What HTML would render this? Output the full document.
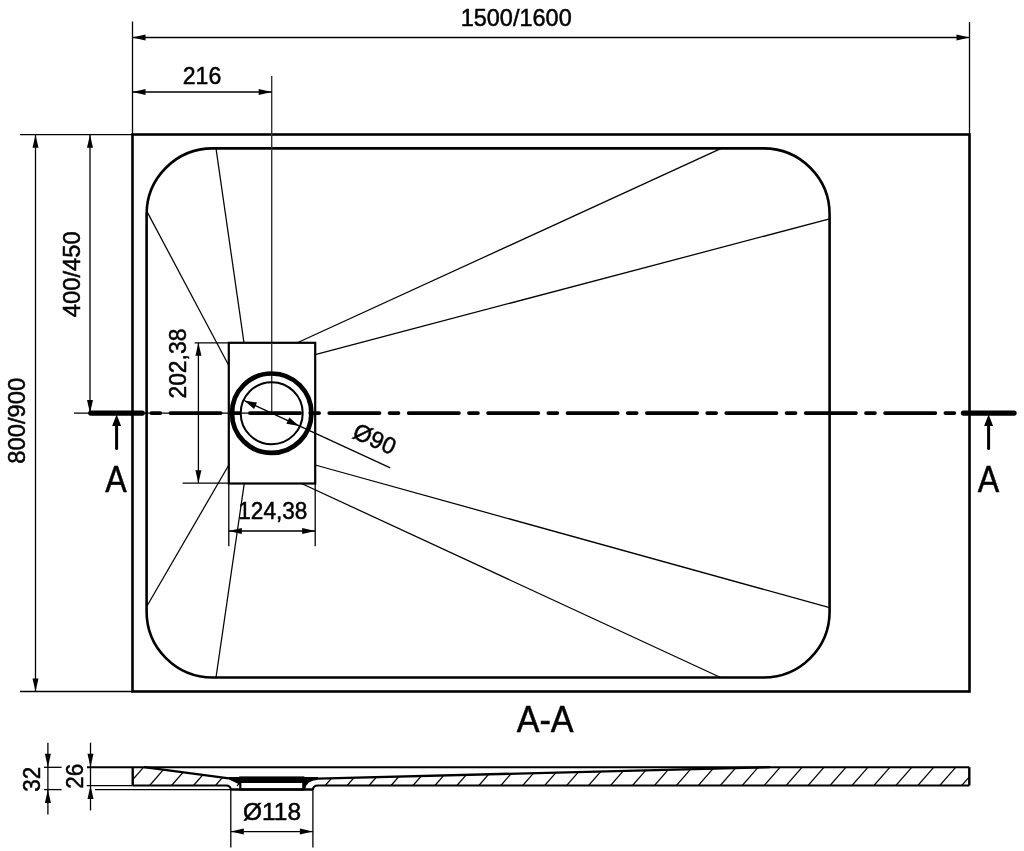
<!DOCTYPE html>
<html><head><meta charset="utf-8"><style>
html,body{margin:0;padding:0;background:#fff;width:1024px;height:851px;overflow:hidden}
svg{display:block;will-change:transform}
</style></head><body>
<svg width="1024" height="851" viewBox="0 0 1024 851">
<rect width="1024" height="851" fill="#fff"/>
<rect x="132.5" y="134.5" width="837" height="557" fill="none" stroke="#000" stroke-width="2.6"/>
<rect x="146.6" y="148.4" width="683" height="529.1" rx="66" ry="66" fill="none" stroke="#000" stroke-width="2.6"/>
<line x1="147.00" y1="211.60" x2="228.80" y2="365.50" stroke="#000" stroke-width="1.25" stroke-linecap="butt"/>
<line x1="216.00" y1="148.40" x2="244.00" y2="342.80" stroke="#000" stroke-width="1.25" stroke-linecap="butt"/>
<line x1="721.30" y1="148.40" x2="297.30" y2="342.80" stroke="#000" stroke-width="1.25" stroke-linecap="butt"/>
<line x1="829.60" y1="218.90" x2="315.20" y2="354.60" stroke="#000" stroke-width="1.25" stroke-linecap="butt"/>
<line x1="829.60" y1="607.70" x2="315.20" y2="465.00" stroke="#000" stroke-width="1.25" stroke-linecap="butt"/>
<line x1="720.60" y1="677.50" x2="301.50" y2="483.50" stroke="#000" stroke-width="1.25" stroke-linecap="butt"/>
<line x1="216.00" y1="677.50" x2="244.30" y2="483.20" stroke="#000" stroke-width="1.25" stroke-linecap="butt"/>
<line x1="147.00" y1="606.00" x2="228.80" y2="465.00" stroke="#000" stroke-width="1.25" stroke-linecap="butt"/>
<line x1="132.50" y1="21.50" x2="132.50" y2="134.50" stroke="#000" stroke-width="1.3" stroke-linecap="butt"/>
<line x1="969.50" y1="22.00" x2="969.50" y2="134.50" stroke="#000" stroke-width="1.3" stroke-linecap="butt"/>
<line x1="132.50" y1="37.50" x2="969.50" y2="37.50" stroke="#000" stroke-width="1.3" stroke-linecap="butt"/>
<polygon points="132.50,37.50 145.50,34.50 145.50,40.50" fill="#000"/>
<polygon points="969.50,37.50 956.50,40.50 956.50,34.50" fill="#000"/>
<text x="516.20" y="26.40" font-family="Liberation Sans, sans-serif" font-size="23.6" text-anchor="middle" fill="#000" stroke="#000" stroke-width="0.5" textLength="111" lengthAdjust="spacingAndGlyphs">1500/1600</text>
<line x1="271.70" y1="76.00" x2="271.70" y2="413.00" stroke="#333" stroke-width="1.4" stroke-linecap="butt"/>
<line x1="132.50" y1="92.00" x2="271.70" y2="92.00" stroke="#000" stroke-width="1.3" stroke-linecap="butt"/>
<polygon points="132.50,92.00 145.50,89.00 145.50,95.00" fill="#000"/>
<polygon points="271.70,92.00 258.70,95.00 258.70,89.00" fill="#000"/>
<text x="202.00" y="83.70" font-family="Liberation Sans, sans-serif" font-size="23.6" text-anchor="middle" fill="#000" stroke="#000" stroke-width="0.5" textLength="38.5" lengthAdjust="spacingAndGlyphs">216</text>
<line x1="20.00" y1="134.70" x2="132.50" y2="134.70" stroke="#000" stroke-width="1.3" stroke-linecap="butt"/>
<line x1="20.00" y1="691.50" x2="132.50" y2="691.50" stroke="#000" stroke-width="1.3" stroke-linecap="butt"/>
<line x1="35.50" y1="134.70" x2="35.50" y2="691.50" stroke="#000" stroke-width="1.3" stroke-linecap="butt"/>
<polygon points="35.50,134.70 38.50,147.70 32.50,147.70" fill="#000"/>
<polygon points="35.50,691.50 32.50,678.50 38.50,678.50" fill="#000"/>
<text x="24.70" y="420.80" font-family="Liberation Sans, sans-serif" font-size="23.6" text-anchor="middle" fill="#000" stroke="#000" stroke-width="0.5" textLength="86" lengthAdjust="spacingAndGlyphs" transform="rotate(-90.00 24.70 420.80)">800/900</text>
<line x1="90.00" y1="134.70" x2="90.00" y2="413.00" stroke="#000" stroke-width="1.3" stroke-linecap="butt"/>
<polygon points="90.00,134.70 93.00,147.70 87.00,147.70" fill="#000"/>
<polygon points="90.00,413.00 87.00,400.00 93.00,400.00" fill="#000"/>
<text x="80.20" y="274.30" font-family="Liberation Sans, sans-serif" font-size="23.6" text-anchor="middle" fill="#000" stroke="#000" stroke-width="0.5" textLength="86" lengthAdjust="spacingAndGlyphs" transform="rotate(-90.00 80.20 274.30)">400/450</text>
<line x1="74.00" y1="413.20" x2="271.70" y2="413.20" stroke="#000" stroke-width="1.3" stroke-linecap="butt"/>
<line x1="151.40" y1="413.10" x2="160.30" y2="413.10" stroke="#000" stroke-width="3.8" stroke-linecap="round"/>
<line x1="230.80" y1="413.10" x2="239.70" y2="413.10" stroke="#000" stroke-width="3.8" stroke-linecap="round"/>
<line x1="310.20" y1="413.10" x2="319.10" y2="413.10" stroke="#000" stroke-width="3.8" stroke-linecap="round"/>
<line x1="389.60" y1="413.10" x2="398.50" y2="413.10" stroke="#000" stroke-width="3.8" stroke-linecap="round"/>
<line x1="469.00" y1="413.10" x2="477.90" y2="413.10" stroke="#000" stroke-width="3.8" stroke-linecap="round"/>
<line x1="548.40" y1="413.10" x2="557.30" y2="413.10" stroke="#000" stroke-width="3.8" stroke-linecap="round"/>
<line x1="627.80" y1="413.10" x2="636.70" y2="413.10" stroke="#000" stroke-width="3.8" stroke-linecap="round"/>
<line x1="707.20" y1="413.10" x2="716.10" y2="413.10" stroke="#000" stroke-width="3.8" stroke-linecap="round"/>
<line x1="786.60" y1="413.10" x2="795.50" y2="413.10" stroke="#000" stroke-width="3.8" stroke-linecap="round"/>
<line x1="866.00" y1="413.10" x2="874.90" y2="413.10" stroke="#000" stroke-width="3.8" stroke-linecap="round"/>
<line x1="945.40" y1="413.10" x2="954.30" y2="413.10" stroke="#000" stroke-width="3.8" stroke-linecap="round"/>
<line x1="170.50" y1="413.10" x2="220.70" y2="413.10" stroke="#000" stroke-width="3.8" stroke-linecap="round"/>
<line x1="249.90" y1="413.10" x2="300.10" y2="413.10" stroke="#000" stroke-width="3.8" stroke-linecap="round"/>
<line x1="329.30" y1="413.10" x2="379.50" y2="413.10" stroke="#000" stroke-width="3.8" stroke-linecap="round"/>
<line x1="408.70" y1="413.10" x2="458.90" y2="413.10" stroke="#000" stroke-width="3.8" stroke-linecap="round"/>
<line x1="488.10" y1="413.10" x2="538.30" y2="413.10" stroke="#000" stroke-width="3.8" stroke-linecap="round"/>
<line x1="567.50" y1="413.10" x2="617.70" y2="413.10" stroke="#000" stroke-width="3.8" stroke-linecap="round"/>
<line x1="646.90" y1="413.10" x2="697.10" y2="413.10" stroke="#000" stroke-width="3.8" stroke-linecap="round"/>
<line x1="726.30" y1="413.10" x2="776.50" y2="413.10" stroke="#000" stroke-width="3.8" stroke-linecap="round"/>
<line x1="805.70" y1="413.10" x2="855.90" y2="413.10" stroke="#000" stroke-width="3.8" stroke-linecap="round"/>
<line x1="885.10" y1="413.10" x2="935.30" y2="413.10" stroke="#000" stroke-width="3.8" stroke-linecap="round"/>
<line x1="90.80" y1="413.10" x2="142.20" y2="413.10" stroke="#000" stroke-width="5.4" stroke-linecap="round"/>
<line x1="963.50" y1="413.10" x2="1014.00" y2="413.10" stroke="#000" stroke-width="5.4" stroke-linecap="round"/>
<line x1="116.60" y1="448.50" x2="116.60" y2="424.00" stroke="#000" stroke-width="3" stroke-linecap="round"/>
<polygon points="116.60,414.50 121.10,426.00 112.10,426.00" fill="#000"/>
<line x1="988.60" y1="448.50" x2="988.60" y2="424.00" stroke="#000" stroke-width="3" stroke-linecap="round"/>
<polygon points="988.60,414.50 993.10,426.00 984.10,426.00" fill="#000"/>
<text x="116.00" y="491.60" font-family="Liberation Sans, sans-serif" font-size="37.4" text-anchor="middle" fill="#000" stroke="#000" stroke-width="0.5" textLength="21.5" lengthAdjust="spacingAndGlyphs">A</text>
<text x="988.60" y="491.60" font-family="Liberation Sans, sans-serif" font-size="37.4" text-anchor="middle" fill="#000" stroke="#000" stroke-width="0.5" textLength="21.5" lengthAdjust="spacingAndGlyphs">A</text>
<rect x="228.8" y="342.8" width="86.4" height="140.7" fill="#fff" stroke="#000" stroke-width="2.2"/>
<line x1="229.00" y1="413.20" x2="271.70" y2="413.20" stroke="#000" stroke-width="1.3" stroke-linecap="butt"/>
<line x1="271.70" y1="343.00" x2="271.70" y2="413.00" stroke="#333" stroke-width="1.4" stroke-linecap="butt"/>
<line x1="230.90" y1="413.10" x2="239.70" y2="413.10" stroke="#000" stroke-width="3.8" stroke-linecap="round"/>
<line x1="310.20" y1="413.10" x2="313.10" y2="413.10" stroke="#000" stroke-width="3.8" stroke-linecap="round"/>
<line x1="249.90" y1="413.10" x2="300.10" y2="413.10" stroke="#000" stroke-width="3.8" stroke-linecap="round"/>
<circle cx="271.7" cy="413.2" r="39.7" fill="none" stroke="#000" stroke-width="4.7"/>
<circle cx="271.7" cy="413.2" r="31" fill="none" stroke="#000" stroke-width="2"/>
<line x1="244.19" y1="400.51" x2="390.30" y2="467.90" stroke="#000" stroke-width="1.25" stroke-linecap="butt"/>
<polygon points="244.19,400.51 257.00,402.57 254.07,408.92" fill="#000"/>
<polygon points="299.21,425.89 286.40,423.83 289.33,417.48" fill="#000"/>
<text x="371.40" y="446.40" font-family="Liberation Sans, sans-serif" font-size="23.6" text-anchor="middle" fill="#000" stroke="#000" stroke-width="0.5" textLength="44" lengthAdjust="spacingAndGlyphs" transform="rotate(24.20 371.40 446.40)">&#216;90</text>
<line x1="194.60" y1="342.80" x2="228.80" y2="342.80" stroke="#000" stroke-width="1.3" stroke-linecap="butt"/>
<line x1="182.60" y1="483.20" x2="228.80" y2="483.20" stroke="#000" stroke-width="1.3" stroke-linecap="butt"/>
<line x1="198.40" y1="342.80" x2="198.40" y2="483.20" stroke="#000" stroke-width="1.3" stroke-linecap="butt"/>
<polygon points="198.40,342.80 201.40,355.80 195.40,355.80" fill="#000"/>
<polygon points="198.40,483.20 195.40,470.20 201.40,470.20" fill="#000"/>
<text x="186.50" y="363.60" font-family="Liberation Sans, sans-serif" font-size="23.6" text-anchor="middle" fill="#000" stroke="#000" stroke-width="0.5" textLength="70" lengthAdjust="spacingAndGlyphs" transform="rotate(-90.00 186.50 363.60)">202,38</text>
<line x1="228.80" y1="483.20" x2="228.80" y2="546.30" stroke="#000" stroke-width="1.3" stroke-linecap="butt"/>
<line x1="315.20" y1="483.20" x2="315.20" y2="546.30" stroke="#000" stroke-width="1.3" stroke-linecap="butt"/>
<line x1="228.80" y1="531.00" x2="315.20" y2="531.00" stroke="#000" stroke-width="1.3" stroke-linecap="butt"/>
<polygon points="228.80,531.00 241.80,528.00 241.80,534.00" fill="#000"/>
<polygon points="315.20,531.00 302.20,534.00 302.20,528.00" fill="#000"/>
<text x="272.80" y="519.30" font-family="Liberation Sans, sans-serif" font-size="23.6" text-anchor="middle" fill="#000" stroke="#000" stroke-width="0.5" textLength="69" lengthAdjust="spacingAndGlyphs">124,38</text>
<text x="545.20" y="731.90" font-family="Liberation Sans, sans-serif" font-size="37.4" text-anchor="middle" fill="#000" stroke="#000" stroke-width="0.5" textLength="57" lengthAdjust="spacingAndGlyphs">A-A</text>
<defs><clipPath id="cp"><polygon points="132.7,767.2 144,767.2 229,778.3 240.3,783 240.3,789.4 230.8,789.4 226,785.5 132.7,785.5"/><polygon points="303.3,789.4 303.3,783 318,778.6 770,767.2 969.3,767.2 969.3,785.5 318,785.5 312.9,789.4"/></clipPath></defs>
<g clip-path="url(#cp)">
<line x1="105.30" y1="786.00" x2="121.30" y2="767.60" stroke="#000" stroke-width="1.2" stroke-linecap="butt"/>
<line x1="127.25" y1="786.00" x2="143.25" y2="767.60" stroke="#000" stroke-width="1.2" stroke-linecap="butt"/>
<line x1="149.20" y1="786.00" x2="165.20" y2="767.60" stroke="#000" stroke-width="1.2" stroke-linecap="butt"/>
<line x1="171.15" y1="786.00" x2="187.15" y2="767.60" stroke="#000" stroke-width="1.2" stroke-linecap="butt"/>
<line x1="193.10" y1="786.00" x2="209.10" y2="767.60" stroke="#000" stroke-width="1.2" stroke-linecap="butt"/>
<line x1="215.05" y1="786.00" x2="231.05" y2="767.60" stroke="#000" stroke-width="1.2" stroke-linecap="butt"/>
<line x1="237.00" y1="786.00" x2="253.00" y2="767.60" stroke="#000" stroke-width="1.2" stroke-linecap="butt"/>
<line x1="258.95" y1="786.00" x2="274.95" y2="767.60" stroke="#000" stroke-width="1.2" stroke-linecap="butt"/>
<line x1="280.90" y1="786.00" x2="296.90" y2="767.60" stroke="#000" stroke-width="1.2" stroke-linecap="butt"/>
<line x1="302.85" y1="786.00" x2="318.85" y2="767.60" stroke="#000" stroke-width="1.2" stroke-linecap="butt"/>
<line x1="324.80" y1="786.00" x2="340.80" y2="767.60" stroke="#000" stroke-width="1.2" stroke-linecap="butt"/>
<line x1="346.75" y1="786.00" x2="362.75" y2="767.60" stroke="#000" stroke-width="1.2" stroke-linecap="butt"/>
<line x1="368.70" y1="786.00" x2="384.70" y2="767.60" stroke="#000" stroke-width="1.2" stroke-linecap="butt"/>
<line x1="390.65" y1="786.00" x2="406.65" y2="767.60" stroke="#000" stroke-width="1.2" stroke-linecap="butt"/>
<line x1="412.60" y1="786.00" x2="428.60" y2="767.60" stroke="#000" stroke-width="1.2" stroke-linecap="butt"/>
<line x1="434.55" y1="786.00" x2="450.55" y2="767.60" stroke="#000" stroke-width="1.2" stroke-linecap="butt"/>
<line x1="456.50" y1="786.00" x2="472.50" y2="767.60" stroke="#000" stroke-width="1.2" stroke-linecap="butt"/>
<line x1="478.45" y1="786.00" x2="494.45" y2="767.60" stroke="#000" stroke-width="1.2" stroke-linecap="butt"/>
<line x1="500.40" y1="786.00" x2="516.40" y2="767.60" stroke="#000" stroke-width="1.2" stroke-linecap="butt"/>
<line x1="522.35" y1="786.00" x2="538.35" y2="767.60" stroke="#000" stroke-width="1.2" stroke-linecap="butt"/>
<line x1="544.30" y1="786.00" x2="560.30" y2="767.60" stroke="#000" stroke-width="1.2" stroke-linecap="butt"/>
<line x1="566.25" y1="786.00" x2="582.25" y2="767.60" stroke="#000" stroke-width="1.2" stroke-linecap="butt"/>
<line x1="588.20" y1="786.00" x2="604.20" y2="767.60" stroke="#000" stroke-width="1.2" stroke-linecap="butt"/>
<line x1="610.15" y1="786.00" x2="626.15" y2="767.60" stroke="#000" stroke-width="1.2" stroke-linecap="butt"/>
<line x1="632.10" y1="786.00" x2="648.10" y2="767.60" stroke="#000" stroke-width="1.2" stroke-linecap="butt"/>
<line x1="654.05" y1="786.00" x2="670.05" y2="767.60" stroke="#000" stroke-width="1.2" stroke-linecap="butt"/>
<line x1="676.00" y1="786.00" x2="692.00" y2="767.60" stroke="#000" stroke-width="1.2" stroke-linecap="butt"/>
<line x1="697.95" y1="786.00" x2="713.95" y2="767.60" stroke="#000" stroke-width="1.2" stroke-linecap="butt"/>
<line x1="719.90" y1="786.00" x2="735.90" y2="767.60" stroke="#000" stroke-width="1.2" stroke-linecap="butt"/>
<line x1="741.85" y1="786.00" x2="757.85" y2="767.60" stroke="#000" stroke-width="1.2" stroke-linecap="butt"/>
<line x1="763.80" y1="786.00" x2="779.80" y2="767.60" stroke="#000" stroke-width="1.2" stroke-linecap="butt"/>
<line x1="785.75" y1="786.00" x2="801.75" y2="767.60" stroke="#000" stroke-width="1.2" stroke-linecap="butt"/>
<line x1="807.70" y1="786.00" x2="823.70" y2="767.60" stroke="#000" stroke-width="1.2" stroke-linecap="butt"/>
<line x1="829.65" y1="786.00" x2="845.65" y2="767.60" stroke="#000" stroke-width="1.2" stroke-linecap="butt"/>
<line x1="851.60" y1="786.00" x2="867.60" y2="767.60" stroke="#000" stroke-width="1.2" stroke-linecap="butt"/>
<line x1="873.55" y1="786.00" x2="889.55" y2="767.60" stroke="#000" stroke-width="1.2" stroke-linecap="butt"/>
<line x1="895.50" y1="786.00" x2="911.50" y2="767.60" stroke="#000" stroke-width="1.2" stroke-linecap="butt"/>
<line x1="917.45" y1="786.00" x2="933.45" y2="767.60" stroke="#000" stroke-width="1.2" stroke-linecap="butt"/>
<line x1="939.40" y1="786.00" x2="955.40" y2="767.60" stroke="#000" stroke-width="1.2" stroke-linecap="butt"/>
<line x1="961.35" y1="786.00" x2="977.35" y2="767.60" stroke="#000" stroke-width="1.2" stroke-linecap="butt"/>
<line x1="983.30" y1="786.00" x2="999.30" y2="767.60" stroke="#000" stroke-width="1.2" stroke-linecap="butt"/>
<line x1="1005.25" y1="786.00" x2="1021.25" y2="767.60" stroke="#000" stroke-width="1.2" stroke-linecap="butt"/>
</g>
<line x1="87.00" y1="767.20" x2="969.30" y2="767.20" stroke="#000" stroke-width="2" stroke-linecap="butt"/>
<line x1="132.70" y1="767.20" x2="132.70" y2="785.50" stroke="#000" stroke-width="2.4" stroke-linecap="butt"/>
<line x1="969.30" y1="767.20" x2="969.30" y2="785.50" stroke="#000" stroke-width="2.4" stroke-linecap="butt"/>
<path d="M132.7,785.5 H226 Q230.8,785.5 230.8,790" fill="none" stroke="#000" stroke-width="2.2"/>
<path d="M969.3,785.5 H318 Q312.9,785.5 312.9,790" fill="none" stroke="#000" stroke-width="2.2"/>
<path d="M144,767.2 L229,778.3" fill="none" stroke="#000" stroke-width="2.3"/>
<path d="M318,778.6 L770,767.2" fill="none" stroke="#000" stroke-width="2.3"/>
<path d="M229,777 L240.3,777 L303.3,777 L318,777 L318,779.7 Q306,780.5 305.3,789.4 L303.3,789.4 L303.3,783 L240.3,783 L240.3,784 L238.5,784 L229,779.5 Z" fill="#000"/>
<rect x="240.3" y="777.5" width="63" height="12" fill="none" stroke="#000" stroke-width="2.2"/>
<line x1="230.80" y1="789.50" x2="312.90" y2="789.50" stroke="#000" stroke-width="2.4" stroke-linecap="butt"/>
<line x1="95.00" y1="789.60" x2="230.80" y2="789.60" stroke="#000" stroke-width="1.3" stroke-linecap="butt"/>
<line x1="230.80" y1="790.00" x2="230.80" y2="847.40" stroke="#000" stroke-width="1.3" stroke-linecap="butt"/>
<line x1="312.90" y1="790.00" x2="312.90" y2="847.40" stroke="#000" stroke-width="1.3" stroke-linecap="butt"/>
<line x1="230.80" y1="831.60" x2="312.90" y2="831.60" stroke="#000" stroke-width="1.3" stroke-linecap="butt"/>
<polygon points="230.80,831.60 243.80,828.60 243.80,834.60" fill="#000"/>
<polygon points="312.90,831.60 299.90,834.60 299.90,828.60" fill="#000"/>
<text x="272.00" y="819.80" font-family="Liberation Sans, sans-serif" font-size="23.6" text-anchor="middle" fill="#000" stroke="#000" stroke-width="0.5" textLength="58" lengthAdjust="spacingAndGlyphs">&#216;118</text>
<line x1="47.90" y1="742.70" x2="47.90" y2="814.50" stroke="#000" stroke-width="1.3" stroke-linecap="butt"/>
<polygon points="47.90,767.30 44.90,753.80 50.90,753.80" fill="#000"/>
<polygon points="47.90,789.60 50.90,803.10 44.90,803.10" fill="#000"/>
<line x1="44.00" y1="767.30" x2="61.60" y2="767.30" stroke="#000" stroke-width="1.3" stroke-linecap="butt"/>
<line x1="44.00" y1="789.60" x2="61.60" y2="789.60" stroke="#000" stroke-width="1.3" stroke-linecap="butt"/>
<text x="40.20" y="779.20" font-family="Liberation Sans, sans-serif" font-size="23.6" text-anchor="middle" fill="#000" stroke="#000" stroke-width="0.5" textLength="25" lengthAdjust="spacingAndGlyphs" transform="rotate(-90.00 40.20 779.20)">32</text>
<line x1="90.50" y1="742.70" x2="90.50" y2="810.40" stroke="#000" stroke-width="1.3" stroke-linecap="butt"/>
<polygon points="90.50,767.30 87.50,753.80 93.50,753.80" fill="#000"/>
<polygon points="90.50,785.60 93.50,799.10 87.50,799.10" fill="#000"/>
<line x1="86.80" y1="785.60" x2="132.70" y2="785.60" stroke="#000" stroke-width="1.3" stroke-linecap="butt"/>
<text x="83.40" y="776.30" font-family="Liberation Sans, sans-serif" font-size="23.6" text-anchor="middle" fill="#000" stroke="#000" stroke-width="0.5" textLength="25" lengthAdjust="spacingAndGlyphs" transform="rotate(-90.00 83.40 776.30)">26</text>
</svg></body></html>
